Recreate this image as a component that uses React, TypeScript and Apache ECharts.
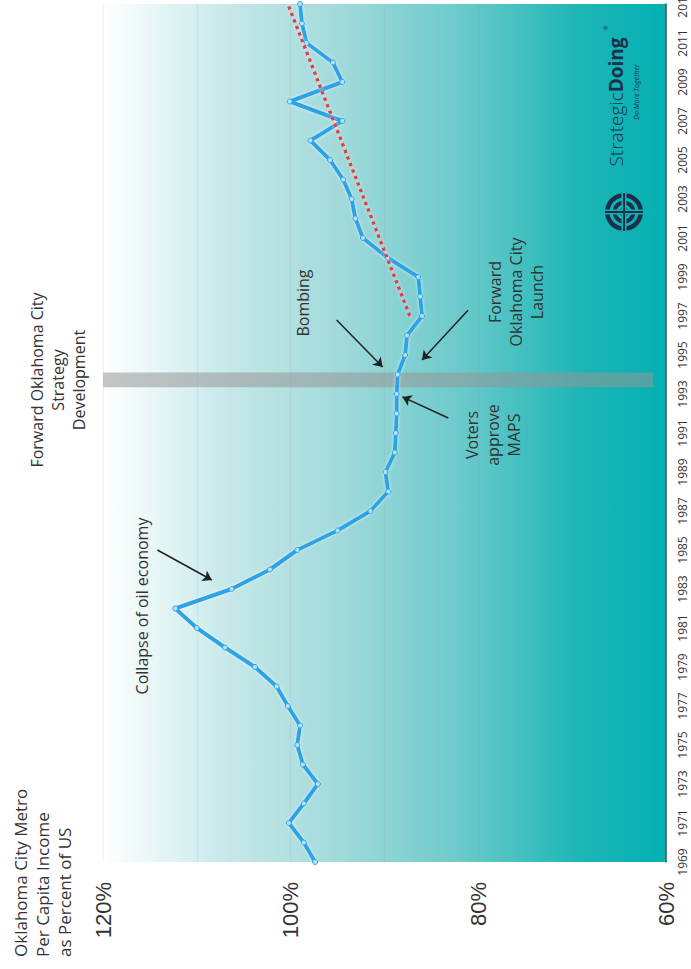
import React, { useEffect, useRef } from "react";
import * as echarts from "echarts";

// Oklahoma City metro per capita income as a percent of the US figure
const years = [
  1969, 1970, 1971, 1972, 1973, 1974, 1975, 1976, 1977, 1978, 1979, 1980,
  1981, 1982, 1983, 1984, 1985, 1986, 1987, 1988, 1989, 1990, 1991, 1992,
  1993, 1994, 1995, 1996, 1997, 1998, 1999, 2000, 2001, 2002, 2003, 2004,
  2005, 2006, 2007, 2008, 2009, 2010, 2011, 2012, 2013,
];
const incomePct = [
  97.4, 98.6, 100.2, 98.6, 97.1, 98.7, 99.3, 99.0, 100.3, 101.5, 103.8, 107.0,
  110.0, 112.3, 106.3, 102.2, 99.3, 95.0, 91.5, 89.6, 89.9, 88.9, 88.8, 88.7,
  88.7, 88.6, 87.8, 87.6, 86.0, 86.2, 86.4, 89.7, 92.3, 93.1, 93.5, 94.4,
  95.8, 97.9, 94.5, 100.1, 94.5, 95.5, 98.3, 98.8, 99.0,
];

// Post-launch trend
const trendYears = [1997, 2013];
const trendPct = [87.3, 100.3];

// Strategy development period (shaded band)
const strategyBand = [1993.35, 1994.1];

const yearTicks = [
  1969, 1971, 1973, 1975, 1977, 1979, 1981, 1983, 1985, 1987, 1989, 1991,
  1993, 1995, 1997, 1999, 2001, 2003, 2005, 2007, 2009, 2011, 2013,
];
const pctTicks = [60, 80, 100, 120];

// Annotation arrows: [pct, year] tail -> [pct, year] head
const arrows = [
  [[114.2, 1985.0], [108.4, 1983.46]],
  [[95.1, 1996.8], [90.2, 1994.38]],
  [[81.1, 1997.3], [86.0, 1994.74]],
  [[83.2, 1991.77], [88.1, 1992.85]],
];

const NAVY = "#1b2f4b";
const TEAL = "#0fb2b3";

function vText(x: number, y: number, text: string, extra: any = {}) {
  return {
    type: "text",
    x,
    y,
    rotation: Math.PI / 2,
    silent: true,
    style: {
      text,
      fontFamily: "Open Sans",
      fontSize: 16,
      fill: "#333333",
      align: "center",
      verticalAlign: "middle",
      lineHeight: 21,
      ...extra,
    },
  };
}

export default function App() {
  const ref = useRef<HTMLDivElement>(null);

  useEffect(() => {
    if (!ref.current) return;
    const chart = echarts.init(ref.current, null, { renderer: "svg" });

    const background = new echarts.graphic.LinearGradient(0, 0, 1, 0, [
      { offset: 0, color: "#ffffff" },
      { offset: 0.17, color: "#d3eeef" },
      { offset: 0.23, color: "#c5e7e8" },
      { offset: 0.43, color: "#9fd9da" },
      { offset: 0.63, color: "#6dcacb" },
      { offset: 0.74, color: "#45c0c1" },
      { offset: 0.84, color: "#1fb6b7" },
      { offset: 1, color: "#03b0b2" },
    ]);

    const option: any = {
      animation: false,
      grid: {
        left: 103,
        right: 25,
        top: 4,
        bottom: 107,
        outerBoundsMode: "none",
        containLabel: false,
        show: true,
        backgroundColor: background,
        borderWidth: 0,
      },
      xAxis: {
        type: "value",
        min: 60,
        max: 120,
        interval: 10,
        inverse: true,
        position: "bottom",
        axisLine: { show: false },
        axisTick: { show: false },
        splitLine: {
          show: true,
          lineStyle: { color: "rgba(140,150,150,0.13)", width: 1 },
        },
        axisLabel: {
          customValues: pctTicks,
          rotate: 90,
          margin: 20,
          fontSize: 22,
          fontFamily: "Liberation Sans",
          color: "#333333",
          formatter: (v: number) => `${v}%`,
        },
      },
      yAxis: {
        type: "value",
        min: 1969,
        max: 2013,
        position: "right",
        axisLine: { show: true, lineStyle: { color: "#2c5d5f", width: 1.5 } },
        axisTick: { show: false },
        splitLine: { show: false },
        axisLabel: {
          customValues: yearTicks,
          rotate: 90,
          margin: 10,
          fontSize: 12,
          fontFamily: "Open Sans",
          color: "#333333",
          formatter: (v: number) => String(v),
        },
      },
      series: [
        {
          type: "line",
          data: years.map((y, i) => [incomePct[i], y]),
          z: 4,
          symbol: "circle",
          symbolSize: 5,
          lineStyle: {
            color: "#2ba4e6",
            width: 4,
            shadowColor: "rgba(255,255,255,0.7)",
            shadowBlur: 3,
          },
          itemStyle: { color: "#b3e3f9", borderColor: "#2ba4e6", borderWidth: 1 },
          markArea: {
            silent: true,
            itemStyle: { color: "rgba(150,150,150,0.55)" },
            data: [
              [
                { xAxis: 120, yAxis: strategyBand[0] },
                { xAxis: 61.4, yAxis: strategyBand[1] },
              ],
            ],
          },
          markLine: {
            silent: true,
            symbol: ["none", "arrow"],
            symbolSize: 9,
            label: { show: false },
            lineStyle: { color: "#222222", width: 1.5, type: "solid" },
            data: arrows.map(([a, b]) => [{ coord: a }, { coord: b }]),
          },
        },
        {
          type: "line",
          data: trendYears.map((y, i) => [trendPct[i], y]),
          z: 5,
          symbol: "none",
          lineStyle: {
            color: "#d8434a",
            width: 3.5,
            type: "dotted",
            shadowColor: "rgba(255,230,230,0.9)",
            shadowBlur: 3,
          },
        },
      ],
      graphic: [
        {
          ...vText(9, 957, "Oklahoma City Metro\nPer Capita Income\nas Percent of US", {
            align: "left",
            verticalAlign: "top",
            fontSize: 17,
            lineHeight: 22,
          }),
        },
        vText(58, 380, "Forward Oklahoma City\nStrategy\nDevelopment"),
        vText(142, 606, "Collapse of oil economy"),
        vText(303, 303, "Bombing"),
        vText(493, 435, "Voters\napprove\nMAPS"),
        vText(516, 292, "Forward\nOklahoma City\nLaunch"),
        // Strategic Doing mark
        {
          type: "text",
          x: 616,
          y: 102,
          rotation: Math.PI / 2,
          silent: true,
          style: {
            text: "{a|Strategic}{b|Doing}",
            align: "center",
            verticalAlign: "middle",
            rich: {
              a: { fontFamily: "Open Sans", fontSize: 19, fill: NAVY, fontWeight: 300 },
              b: { fontFamily: "Open Sans", fontSize: 19, fill: NAVY, fontWeight: "bold" },
            },
          },
        },
        vText(606, 28, "®", { fontSize: 6, fill: NAVY }),
        vText(636, 92, "Do More Together", {
          fontSize: 7,
          fontStyle: "italic",
          fill: NAVY,
        }),
        {
          type: "group",
          x: 624,
          y: 212,
          silent: true,
          children: [
            { type: "ring", shape: { cx: 0, cy: 0, r: 19, r0: 14.5 }, style: { fill: NAVY } },
            { type: "ring", shape: { cx: 0, cy: 0, r: 11.5, r0: 7.5 }, style: { fill: NAVY } },
            { type: "circle", shape: { cx: 0, cy: 0, r: 4.5 }, style: { fill: NAVY } },
            { type: "rect", shape: { x: -2.5, y: -20, width: 5, height: 40 }, style: { fill: TEAL } },
            { type: "rect", shape: { x: -20, y: -2.5, width: 40, height: 5 }, style: { fill: TEAL } },
            { type: "rect", shape: { x: -1, y: -19, width: 2, height: 38 }, style: { fill: NAVY } },
            { type: "rect", shape: { x: -19, y: -1, width: 38, height: 2 }, style: { fill: NAVY } },
          ],
        },
      ],
    };

    chart.setOption(option);
    return () => chart.dispose();
  }, []);

  return (
    <div
      ref={ref}
      style={{
        position: "absolute",
        left: 0,
        top: 0,
        width: 691,
        height: 969,
        background: "#ffffff",
      }}
    />
  );
}
